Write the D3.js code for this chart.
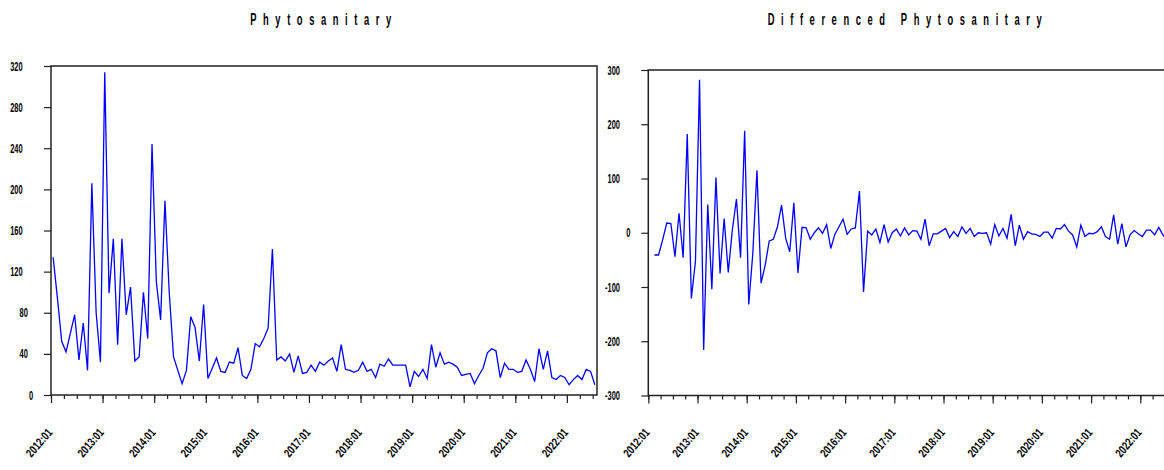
<!DOCTYPE html>
<html>
<head>
<meta charset="utf-8">
<script src="https://cdn.jsdelivr.net/npm/d3@7"></script>
<style>
body { margin: 0; background: #fff; }
svg { display: block; font-family: 'Liberation Sans', Arial, sans-serif; }
</style>
</head>
<body>
<div id="chart"></div>
<script>
// monthly observations, 2012:01 .. 2022:07
var yearLabels = ['2012:01', '2013:01', '2014:01', '2015:01', '2016:01', '2017:01',
                  '2018:01', '2019:01', '2020:01', '2021:01', '2022:01'];

var phyto = [134, 94, 52, 42, 60, 78, 34, 70, 24, 206, 80, 32,
             314, 99, 152, 49, 152, 78, 105, 33, 37, 100, 55, 244,
             110, 73, 189, 100, 37, 24, 11, 24, 76, 66, 33, 88,
             16, 26, 36, 23, 22, 32, 31, 46, 19, 16, 25, 50,
             47, 55, 65, 142, 34, 37, 33, 40, 22, 38, 21, 22,
             29, 23, 32, 29, 33, 36, 23, 49, 25, 24, 22, 24,
             32, 23, 25, 17, 30, 28, 35, 29, 29, 29, 29, 8,
             23, 18, 25, 16, 49, 27, 41, 30, 32, 30, 27, 19,
             20, 21, 11, 19, 26, 41, 45, 43, 17, 31, 25, 25,
             22, 23, 34, 25, 13, 45, 25, 43, 17, 15, 19, 17,
             10, 15, 19, 15, 25, 23, 10];

// differenced series starts at 2012:02
var dPhyto = [-41, -41, -13, 18, 17, -44, 36, -46, 182, -121, -53,
              282, -216, 52, -104, 102, -75, 26, -73, 5, 62, -46, 188,
              -132, -37, 115, -93, -60, -15, -12, 11, 51, -10, -35, 55,
              -74, 10, 9, -12, 0, 9, -1, 15, -29, -3, 11, 25,
              -3, 7, 9, 77, -109, 3, -4, 7, -18, 15, -17, 0,
              7, -6, 9, -4, 4, 3, -12, 25, -24, -2, -2, 3,
              8, -9, 2, -7, 11, -1, 8, -7, 0, -1, 0, -21,
              15, -6, 8, -10, 34, -24, 14, -12, 2, -2, -3, -7,
              1, 1, -10, 8, 7, 15, 3, -4, -26, 14, -7, -1,
              -2, 2, 11, -7, -12, 33, -21, 17, -26, -4, 4, -2,
              -7, 5, 5, -4, 10, -4, -13];

var leftTicks = [0, 40, 80, 120, 160, 200, 240, 280, 320],
    rightTicks = [-300, -200, -100, 0, 100, 200, 300];

var width = 1164,
    height = 470,
    nObs = phyto.length;

var svg = d3.select('#chart').append('svg')
    .attr('width', width)
    .attr('height', height);

function panel(cfg) {
    var xScale = d3.scaleLinear()
        .domain([-0.5, nObs - 0.5])
        .range([cfg.left, cfg.right]);

    var yScale = d3.scaleLinear()
        .domain(cfg.domain)
        .range([cfg.bottom, cfg.top]);

    var g = svg.append('g');

    g.append('text')
        .attr('transform', 'translate(' + (cfg.titleX + 3) + ',25) scale(0.55,1)')
        .attr('text-anchor', 'middle')
        .style('font-size', '17px')
        .style('font-weight', 'bold')
        .style('letter-spacing', '12px')
        .text(cfg.title);

    // quarterly ticks, long ones at January
    var quarters = d3.range(0, nObs, 3),
        years = d3.range(0, nObs, 12);

    var minorAxis = d3.axisBottom(xScale)
        .tickValues(quarters.map(function(i) { return i - 0.5; }))
        .tickSize(4)
        .tickFormat('');
    var majorAxis = d3.axisBottom(xScale)
        .tickValues(years.map(function(i) { return i - 0.5; }))
        .tickSize(8)
        .tickFormat('');
    var yAxis = d3.axisLeft(yScale)
        .tickValues(cfg.ticks)
        .tickSize(7)
        .tickFormat('');

    [minorAxis, majorAxis].forEach(function(ax) {
        g.append('g')
            .attr('transform', 'translate(0,' + cfg.bottom + ')')
            .call(ax);
    });
    g.append('g')
        .attr('transform', 'translate(' + cfg.left + ',0)')
        .call(yAxis);

    g.selectAll('.domain').remove();
    g.selectAll('.tick line')
        .attr('stroke', '#222')
        .attr('stroke-width', 1.2);

    g.selectAll('.ylab').data(cfg.ticks)
        .enter().append('text')
        .attr('class', 'ylab')
        .attr('transform', function(d) {
            var digits = String(Math.abs(d)).length;
            var xx = cfg.left - 28.3 + (3 - digits) * 5.2;
            return 'translate(' + xx + ',' + yScale(d) + ') scale(0.6,1)';
        })
        .attr('text-anchor', 'end')
        .attr('dy', '0.36em')
        .style('font-size', '12.5px')
        .style('font-weight', 'bold')
        .text(function(d) { return d; });

    g.selectAll('.xlab').data(yearLabels)
        .enter().append('text')
        .attr('class', 'xlab')
        .attr('transform', function(d, i) {
            return 'translate(' + (xScale(years[i] - 0.5) + 2) + ',433) rotate(-49) scale(0.75,1)';
        })
        .attr('text-anchor', 'end')
        .style('font-size', '12px')
        .style('font-weight', 'bold')
        .text(function(d) { return d; });

    var line = d3.line()
        .x(function(d, i) { return xScale(i + cfg.offset); })
        .y(function(d) { return yScale(d); });

    g.append('path')
        .datum(cfg.values)
        .attr('d', line)
        .attr('fill', 'none')
        .attr('stroke', '#0000ff')
        .attr('stroke-width', 1.3)
        .attr('stroke-linejoin', 'miter');

    g.append('rect')
        .attr('x', cfg.left)
        .attr('y', cfg.top)
        .attr('width', cfg.right - cfg.left)
        .attr('height', cfg.bottom - cfg.top)
        .attr('fill', 'none')
        .attr('stroke', '#222')
        .attr('stroke-width', 1.5);
}

panel({
    title: 'Phytosanitary',
    titleX: 321,
    left: 51, right: 597, top: 66, bottom: 395,
    domain: [0, 320],
    ticks: leftTicks,
    values: phyto,
    offset: 0
});

panel({
    title: 'Differenced Phytosanitary',
    titleX: 905,
    left: 648.3, right: 1169, top: 70, bottom: 395.5,
    domain: [-300, 300],
    ticks: rightTicks,
    values: dPhyto,
    offset: 1
});
</script>
</body>
</html>
